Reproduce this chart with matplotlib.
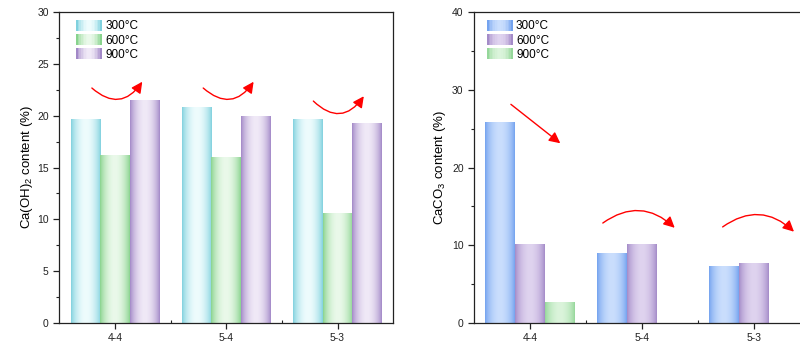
import numpy as np
import matplotlib
matplotlib.use("Agg")
from matplotlib import pyplot as plt
from matplotlib.patches import Rectangle, FancyArrowPatch
from matplotlib.legend_handler import HandlerBase
from matplotlib.colors import to_rgb

plt.rcParams['font.family'] = ['Liberation Sans', 'DejaVu Sans']
plt.rcParams['mathtext.default'] = 'regular'

samples = ["4-4", "5-4", "5-3"]
temps = ["300°C", "600°C", "900°C"]

# Ca(OH)2 content (%)
caoh2_300 = [19.7, 20.85, 19.65]
caoh2_600 = [16.2, 16.05, 10.6]
caoh2_900 = [21.5, 19.95, 19.3]

# CaCO3 content (%)
caco3_300 = [25.8, 8.95, 7.3]
caco3_600 = [10.15, 10.15, 7.75]
caco3_900 = [2.75, 0.0, 0.0]

# (edge colour, centre colour) for the shaded bars
CYAN = ("#80d1de", "#eefcfd")
GREEN = ("#88d38d", "#eaf9ea")
PURPLE = ("#a288c7", "#f0e9f7")
BLUE = ("#74a3ef", "#cadefd")
PURPLE_R = ("#a48bc8", "#dfd3ef")
GREEN_R = ("#95d79a", "#dbf4db")

BAR_W = 0.265
LINE_COLOUR = "#222222"


def shade_profile(n=64):
    t = np.linspace(0, 1, n)
    # dark at both edges, lightest around the middle
    return np.sin(np.pi * t) ** 0.75


def gradient_rgb(colours, n=64):
    edge = np.array(to_rgb(colours[0]))
    mid = np.array(to_rgb(colours[1]))
    s = shade_profile(n)[:, None]
    return edge * (1 - s) + mid * s


class GradientHandler(HandlerBase):
    def __init__(self, colours):
        super().__init__()
        self.colours = colours

    def create_artists(self, legend, orig_handle, xdescent, ydescent,
                       width, height, fontsize, trans):
        rgb = gradient_rgb(self.colours, 16)
        step = width / len(rgb)
        arts = []
        for i, c in enumerate(rgb):
            r = Rectangle((-xdescent + i * step, -ydescent), step * 1.05, height,
                          facecolor=c, edgecolor='none', transform=trans)
            arts.append(r)
        return arts


def shaded_bars(ax, x, values, colours, label):
    bars = ax.bar(x, values, BAR_W, color='none', edgecolor='none', label=label)
    img = gradient_rgb(colours)[None, :, :]
    for b in bars:
        if b.get_height() <= 0:
            continue
        x0, y0 = b.get_x(), b.get_y()
        im = ax.imshow(img, extent=(x0, x0 + b.get_width(), y0, y0 + b.get_height()),
                       aspect='auto', interpolation='bilinear', zorder=2)
        im.set_clip_path(b)
    return bars


def style_axes(ax, ymax, ystep, ylabel, pad):
    ax.set_xlim(-0.5, 2.5)
    ax.set_ylim(0, ymax)
    ax.set_xticks(range(len(samples)))
    ax.set_xticklabels(samples)
    ax.set_xticks([0.5, 1.5], minor=True)
    ax.set_yticks(np.arange(0, ymax + 1, ystep))
    ax.set_yticks(np.arange(ystep / 2, ymax, ystep), minor=True)
    ax.tick_params(axis='both', which='major', direction='out', length=4,
                   width=0.9, labelsize=7.5, color=LINE_COLOUR, labelcolor='#222222')
    ax.tick_params(axis='y', which='minor', direction='out', length=2.2, width=0.8,
                   color=LINE_COLOUR)
    ax.tick_params(axis='x', which='minor', direction='in', length=2.5, width=0.8,
                   color=LINE_COLOUR)
    ax.tick_params(axis='x', pad=3)
    for sp in ax.spines.values():
        sp.set_linewidth(0.9)
        sp.set_color(LINE_COLOUR)
    ax.set_ylabel(ylabel, fontsize=9.5, labelpad=pad)


def curved_arrow(ax, start, end, rad):
    arr = FancyArrowPatch(start, end, connectionstyle="arc3,rad=%s" % rad,
                          arrowstyle="-|>,head_length=0.6,head_width=0.3",
                          mutation_scale=11, color="red", linewidth=1.0, zorder=5)
    ax.add_patch(arr)


fig = plt.figure(figsize=(8, 3.44), dpi=100)
ax1 = fig.add_axes([0.074, 0.061, 0.4175, 0.904])
ax2 = fig.add_axes([0.5925, 0.061, 0.42, 0.904])

x = np.arange(len(samples))

# left panel: Ca(OH)2
b1 = shaded_bars(ax1, x - BAR_W, caoh2_300, CYAN, temps[0])
b2 = shaded_bars(ax1, x, caoh2_600, GREEN, temps[1])
b3 = shaded_bars(ax1, x + BAR_W, caoh2_900, PURPLE, temps[2])
style_axes(ax1, 30, 5, "Ca(OH)$_2$ content (%)", 1.5)
ax1.legend([b1, b2, b3], temps, loc='upper left', bbox_to_anchor=(0.051, 0.975),
           frameon=False, fontsize=8.5, handlelength=2.15, handleheight=1.05,
           labelspacing=0.15, handletextpad=0.3, borderpad=0, borderaxespad=0,
           handler_map={b1: GradientHandler(CYAN), b2: GradientHandler(GREEN),
                        b3: GradientHandler(PURPLE)})

curved_arrow(ax1, (-0.225, 22.85), (0.26, 23.5), 0.6)
curved_arrow(ax1, (0.775, 22.85), (1.26, 23.5), 0.6)
curved_arrow(ax1, (1.765, 21.6), (2.25, 22.1), 0.62)

# right panel: CaCO3
c1 = shaded_bars(ax2, x - BAR_W, caco3_300, BLUE, temps[0])
c2 = shaded_bars(ax2, x, caco3_600, PURPLE_R, temps[1])
c3 = shaded_bars(ax2, x + BAR_W, caco3_900, GREEN_R, temps[2])
style_axes(ax2, 40, 10, "CaCO$_3$ content (%)", 2.5)
ax2.legend([c1, c2, c3], temps, loc='upper left', bbox_to_anchor=(0.039, 0.975),
           frameon=False, fontsize=8.5, handlelength=2.15, handleheight=1.05,
           labelspacing=0.15, handletextpad=0.3, borderpad=0, borderaxespad=0,
           handler_map={c1: GradientHandler(BLUE), c2: GradientHandler(PURPLE_R),
                        c3: GradientHandler(GREEN_R)})

curved_arrow(ax2, (-0.19, 28.35), (0.29, 22.9), 0.0)
curved_arrow(ax2, (0.63, 12.65), (1.31, 12.0), -0.43)
curved_arrow(ax2, (1.70, 12.15), (2.375, 11.5), -0.43)

fig.savefig("out.png", dpi=100)
